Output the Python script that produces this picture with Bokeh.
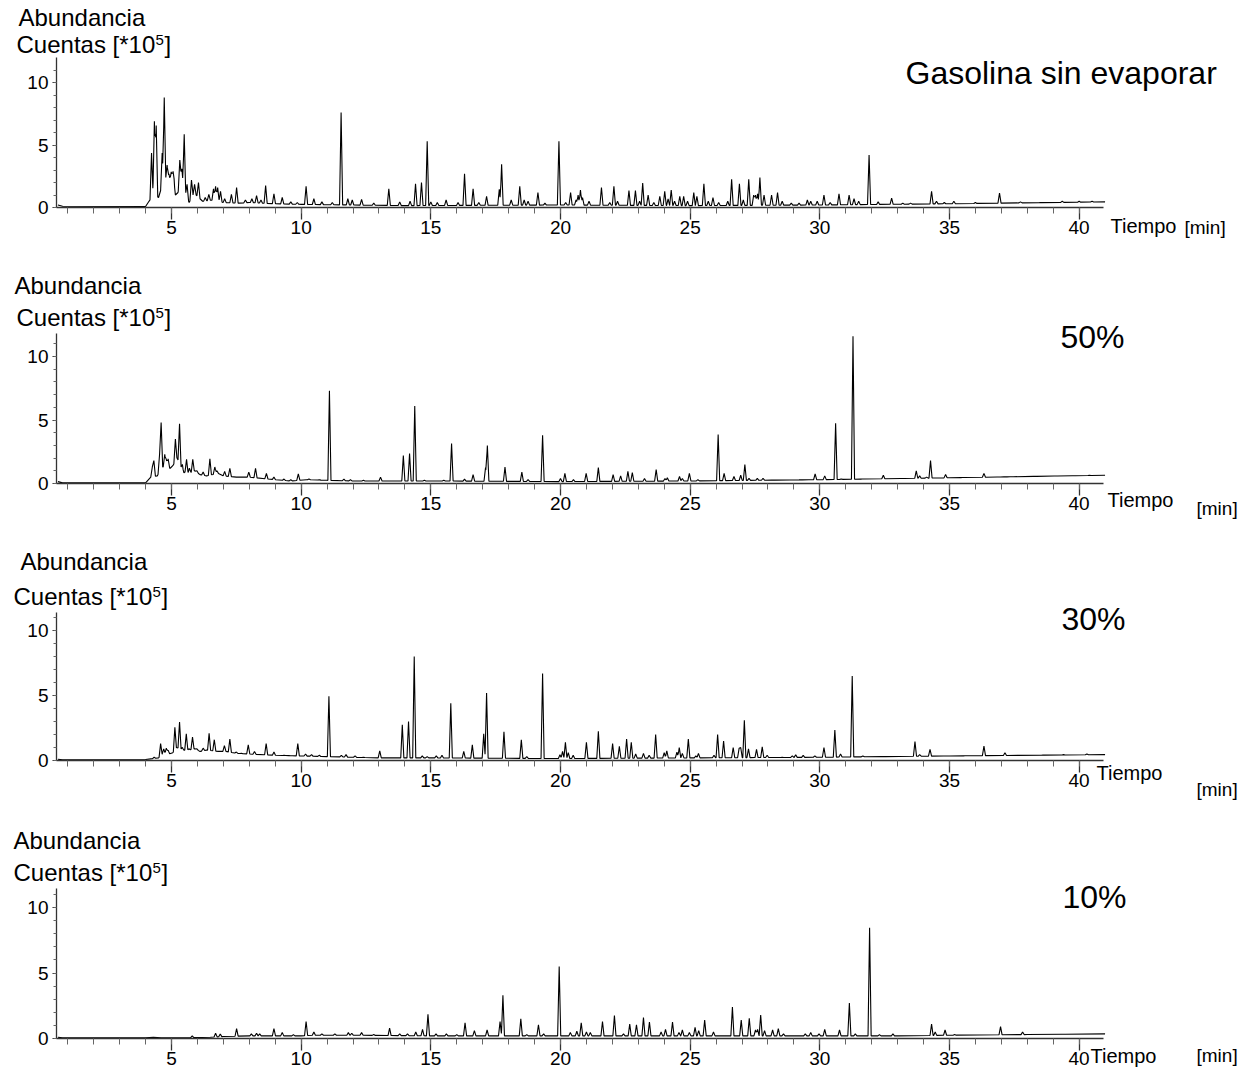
import numpy as np
from bokeh.plotting import figure
from bokeh.models import Range1d, FixedTicker, Label
from bokeh.layouts import column
from bokeh.embed import file_html
from bokeh.resources import INLINE

# ---------------- data ----------------
x_major_ticks = [5, 10, 15, 20, 25, 30, 35, 40]
x_minor_ticks = list(range(1, 41))
y_major_ticks = [0, 5, 10]
y_minor_ticks = list(range(0, 12))

titles = ["Gasolina sin evaporar", "50%", "30%", "10%"]
y_label_line1 = "Abundancia"
y_label_line2 = "Cuentas [*10"
y_label_exp = "5"
y_label_close = "]"
x_label = "Tiempo"
x_unit = "[min]"

# Panel 1: Gasolina sin evaporar
p1_base_t = [0.55, 0.62, 0.8, 4.0, 4.1, 4.3, 4.5, 4.6, 4.78, 5.1, 5.15, 5.25, 5.36, 5.55, 5.68, 5.82, 5.95, 6.2, 6.6, 7.0, 7.6, 8.0, 9.0, 10.0, 12.0, 14.0, 20.0, 25.0, 30.0, 35.0, 41.0]
p1_base_h = [0.3, 0.2, 0.1, 0.08, 0.4, 1.0, 0.8, 1.5, 2.2, 2.0, 1.0, 1.2, 2.3, 1.0, 0.4, 1.0, 1.0, 0.5, 0.6, 0.4, 0.35, 0.4, 0.3, 0.25, 0.2, 0.15, 0.2, 0.15, 0.2, 0.3, 0.45]
p1_peak_t = [4.23, 4.34, 4.41, 4.64, 4.72, 4.83, 4.9, 4.99, 5.06, 5.32, 5.4, 5.49, 5.6, 5.77, 5.89, 6.04, 6.3, 6.44, 6.62, 6.7, 6.78, 6.89, 7.05, 7.31, 7.51, 7.85, 8.1, 8.28, 8.45, 8.63, 8.95, 9.27, 9.6, 9.85, 10.19, 10.49, 10.8, 11.2, 11.54, 11.8, 11.97, 12.33, 12.8, 13.38, 13.8, 14.2, 14.41, 14.64, 14.86, 15.0, 15.25, 15.59, 16.05, 16.3, 16.63, 16.85, 17.15, 17.64, 17.73, 18.1, 18.43, 18.6, 18.75, 19.13, 19.4, 19.94, 20.2, 20.39, 20.6, 20.68, 20.77, 20.85, 21.1, 21.58, 21.9, 22.06, 22.2, 22.64, 22.89, 23.05, 23.17, 23.38, 23.6, 23.83, 24.02, 24.15, 24.27, 24.4, 24.6, 24.75, 24.9, 25.14, 25.26, 25.53, 25.7, 25.88, 26.1, 26.45, 26.6, 26.9, 27.05, 27.26, 27.45, 27.52, 27.6, 27.69, 27.85, 28.14, 28.37, 28.55, 28.9, 29.2, 29.52, 29.65, 29.9, 30.16, 30.4, 30.74, 31.13, 31.32, 31.5, 31.9, 32.25, 32.77, 33.2, 33.5, 34.31, 34.5, 34.8, 35.17, 36.0, 36.93, 37.74, 38.5, 39.35, 40.0, 40.5]
p1_peak_h = [4.35, 6.9, 6.55, 4.35, 8.8, 3.4, 2.7, 2.85, 2.9, 3.8, 3.1, 5.85, 1.85, 2.2, 1.85, 2.0, 0.8, 1.05, 1.5, 1.7, 1.6, 1.3, 0.7, 1.05, 1.6, 0.6, 0.7, 0.95, 0.6, 1.75, 1.1, 0.8, 0.45, 0.4, 1.7, 0.7, 0.45, 0.4, 7.6, 0.7, 0.6, 0.65, 0.35, 1.5, 0.45, 0.5, 1.9, 2.0, 5.3, 0.45, 0.4, 0.6, 0.4, 2.7, 1.5, 0.4, 0.9, 1.45, 3.45, 0.6, 1.7, 0.6, 0.5, 1.2, 0.35, 5.3, 0.4, 1.2, 0.6, 1.0, 1.4, 0.8, 0.5, 1.6, 0.4, 1.7, 0.5, 1.35, 1.35, 0.5, 1.95, 1.0, 0.4, 0.9, 1.3, 0.7, 1.4, 0.5, 0.9, 0.9, 0.5, 1.2, 0.9, 1.9, 0.5, 0.8, 0.4, 0.5, 2.25, 1.9, 0.6, 2.25, 1.0, 1.0, 1.1, 2.4, 1.0, 1.0, 1.2, 0.5, 0.35, 0.35, 0.6, 0.5, 0.5, 1.0, 0.4, 1.1, 1.0, 0.7, 0.5, 4.2, 0.45, 0.75, 0.35, 0.35, 1.3, 0.5, 0.4, 0.5, 0.4, 1.15, 0.45, 0.4, 0.5, 0.5, 0.5]

# Panel 2: 50%
p2_base_t = [0.55, 0.62, 0.8, 4.0, 4.2, 4.45, 4.65, 4.75, 4.95, 5.05, 5.22, 5.45, 5.52, 5.65, 5.9, 6.1, 6.35, 6.8, 7.0, 7.5, 8.0, 9.0, 9.6, 10.2, 11.0, 12.0, 15.0, 20.0, 25.0, 30.0, 35.0, 41.0]
p2_base_h = [0.35, 0.15, 0.05, 0.05, 0.5, 0.6, 1.3, 1.3, 1.2, 1.4, 2.0, 0.8, 0.9, 0.8, 1.0, 0.7, 0.6, 0.8, 0.6, 0.5, 0.5, 0.3, 0.2, 0.3, 0.25, 0.2, 0.2, 0.15, 0.2, 0.3, 0.45, 0.65]
p2_peak_t = [4.26, 4.32, 4.54, 4.6, 4.74, 4.8, 4.87, 5.15, 5.31, 5.42, 5.58, 5.69, 5.82, 5.98, 6.22, 6.48, 6.67, 6.75, 7.05, 7.25, 7.56, 7.98, 8.24, 8.66, 8.95, 9.34, 9.6, 9.89, 10.3, 10.7, 11.09, 11.65, 11.9, 12.4, 13.06, 13.94, 14.18, 14.38, 14.75, 15.5, 15.8, 16.3, 16.63, 17.11, 17.18, 17.86, 18.51, 18.75, 19.31, 20.0, 20.17, 20.5, 20.99, 21.46, 22.03, 22.32, 22.6, 22.77, 23.24, 23.69, 24.03, 24.12, 24.59, 24.7, 24.97, 25.3, 26.08, 26.31, 26.69, 26.95, 27.11, 27.27, 27.59, 27.81, 28.2, 28.9, 29.26, 29.64, 29.82, 30.19, 30.61, 30.83, 31.28, 31.64, 32.45, 33.2, 33.72, 33.85, 34.12, 34.27, 34.85, 35.5, 36.33, 36.9, 37.16, 37.4, 38.3, 39.1, 39.8, 40.4]
p2_peak_h = [1.3, 1.8, 2.3, 4.8, 2.3, 1.9, 1.95, 3.5, 4.7, 1.5, 1.9, 1.2, 1.9, 1.0, 0.9, 1.95, 1.3, 1.0, 0.95, 1.2, 0.5, 0.9, 1.2, 0.8, 0.5, 0.35, 0.3, 0.75, 0.35, 0.3, 7.3, 0.35, 0.3, 0.25, 0.5, 2.2, 2.35, 6.1, 0.25, 0.25, 3.15, 0.35, 0.7, 1.25, 3.0, 1.3, 0.9, 0.3, 3.8, 0.4, 0.8, 0.3, 0.8, 1.25, 0.7, 0.6, 0.95, 0.85, 0.4, 1.1, 0.4, 0.45, 0.55, 0.4, 0.8, 0.3, 3.85, 0.8, 0.55, 0.65, 1.5, 0.4, 0.4, 0.4, 0.25, 0.25, 0.3, 0.3, 0.75, 0.6, 4.75, 0.35, 11.6, 0.35, 0.65, 0.35, 1.0, 0.6, 0.5, 1.8, 0.7, 0.45, 0.8, 0.5, 0.5, 0.5, 0.55, 0.55, 0.6, 0.65]

# Panel 3: 30%
p3_base_t = [0.55, 0.62, 0.8, 4.0, 4.5, 4.65, 4.9, 5.05, 5.2, 5.45, 5.65, 5.9, 6.1, 6.35, 6.8, 7.1, 7.5, 8.0, 9.0, 10.0, 11.0, 12.0, 13.0, 15.0, 20.0, 25.0, 30.0, 35.0, 41.0]
p3_base_h = [0.25, 0.1, 0.05, 0.08, 0.2, 0.5, 0.5, 0.6, 1.0, 0.8, 0.8, 0.9, 0.7, 0.8, 0.7, 0.7, 0.55, 0.5, 0.4, 0.35, 0.3, 0.25, 0.2, 0.2, 0.15, 0.2, 0.25, 0.35, 0.45]
p3_peak_t = [4.33, 4.58, 4.7, 4.8, 4.87, 5.13, 5.31, 5.42, 5.57, 5.67, 5.81, 5.98, 6.22, 6.45, 6.65, 7.04, 7.25, 7.5, 7.7, 7.96, 8.2, 8.65, 8.95, 9.34, 9.59, 9.87, 10.17, 10.4, 10.7, 11.07, 11.55, 11.73, 12.08, 12.4, 13.03, 13.9, 14.14, 14.36, 14.67, 14.86, 15.21, 15.43, 15.77, 16.27, 16.6, 17.04, 17.15, 17.82, 18.49, 18.7, 19.31, 19.98, 20.08, 20.19, 20.3, 20.49, 21.0, 21.46, 22.01, 22.27, 22.55, 22.73, 22.9, 23.2, 23.42, 23.67, 24.0, 24.1, 24.49, 24.58, 24.7, 24.93, 25.22, 25.32, 25.92, 26.06, 26.29, 26.66, 26.89, 26.95, 27.09, 27.25, 27.56, 27.78, 27.97, 28.55, 28.94, 29.07, 29.36, 29.81, 30.16, 30.58, 30.8, 31.25, 31.66, 32.47, 33.67, 33.85, 34.25, 34.83, 35.6, 36.33, 37.14, 38.6, 39.4, 40.3]
p3_peak_h = [0.25, 1.3, 0.9, 0.95, 0.8, 2.55, 2.95, 1.0, 2.05, 0.9, 1.8, 0.9, 0.95, 2.1, 1.6, 1.15, 1.65, 0.65, 0.55, 1.2, 0.7, 1.3, 0.65, 0.4, 0.35, 1.3, 0.5, 0.45, 0.4, 4.95, 0.4, 0.45, 0.35, 0.25, 0.75, 2.75, 3.0, 8.0, 0.35, 0.3, 0.35, 0.4, 4.4, 0.7, 1.2, 2.05, 5.2, 2.2, 1.6, 0.3, 6.7, 0.45, 0.7, 1.4, 0.6, 0.4, 1.4, 2.25, 1.3, 1.1, 1.65, 1.4, 0.5, 0.55, 0.4, 2.0, 0.6, 0.75, 0.65, 1.0, 0.55, 1.65, 0.35, 0.55, 0.4, 2.0, 1.5, 1.0, 0.95, 1.0, 3.1, 0.9, 0.85, 1.05, 0.4, 0.25, 0.35, 0.45, 0.4, 0.35, 1.0, 2.35, 0.5, 6.5, 0.35, 0.25, 1.45, 0.45, 0.85, 0.3, 0.35, 1.1, 0.6, 0.4, 0.45, 0.5]

# Panel 4: 10%
p4_base_t = [0.55, 0.62, 0.8, 4.0, 4.3, 4.6, 5.5, 6.5, 7.0, 8.0, 9.0, 10.0, 10.5, 12.0, 15.0, 20.0, 25.0, 30.0, 33.0, 35.0, 38.0, 41.0]
p4_base_h = [0.2, 0.1, 0.05, 0.05, 0.1, 0.05, 0.05, 0.1, 0.15, 0.2, 0.2, 0.2, 0.25, 0.25, 0.2, 0.2, 0.2, 0.2, 0.2, 0.25, 0.3, 0.35]
p4_peak_t = [5.8, 6.7, 6.88, 7.51, 8.08, 8.28, 8.4, 8.95, 9.27, 9.7, 10.19, 10.49, 10.8, 11.3, 11.82, 11.95, 12.33, 12.8, 13.41, 13.8, 14.1, 14.42, 14.68, 14.89, 15.2, 15.6, 16.0, 16.32, 16.68, 17.17, 17.67, 17.78, 18.47, 18.7, 19.15, 19.35, 19.95, 20.38, 20.63, 20.8, 21.0, 21.15, 21.62, 22.08, 22.43, 22.67, 22.93, 23.2, 23.43, 23.88, 24.05, 24.32, 24.57, 24.7, 24.97, 25.19, 25.33, 25.56, 25.9, 26.63, 26.97, 27.28, 27.52, 27.6, 27.72, 27.87, 28.18, 28.4, 28.6, 29.44, 29.65, 29.97, 30.19, 30.76, 31.14, 31.37, 31.92, 32.3, 32.82, 34.31, 34.45, 34.83, 35.2, 36.97, 37.82, 39.4]
p4_peak_h = [0.2, 0.4, 0.35, 0.75, 0.35, 0.4, 0.35, 0.75, 0.45, 0.3, 1.3, 0.5, 0.35, 0.35, 0.45, 0.4, 0.45, 0.3, 0.8, 0.35, 0.35, 0.5, 0.7, 1.85, 0.35, 0.35, 0.3, 1.2, 0.6, 0.65, 1.3, 3.3, 1.5, 0.3, 1.05, 0.35, 5.5, 0.45, 0.55, 1.2, 0.5, 0.45, 1.3, 1.75, 0.35, 1.1, 1.05, 1.6, 1.25, 0.5, 0.7, 1.25, 0.45, 0.65, 0.45, 0.85, 0.6, 1.4, 0.5, 2.4, 1.4, 1.55, 0.65, 0.7, 1.8, 0.6, 0.65, 0.75, 0.35, 0.35, 0.45, 0.35, 0.7, 0.65, 2.7, 0.35, 8.45, 0.3, 0.35, 1.1, 0.5, 0.65, 0.3, 0.9, 0.5, 0.3]

series = [
    (p1_base_t, p1_base_h, p1_peak_t, p1_peak_h),
    (p2_base_t, p2_base_h, p2_peak_t, p2_peak_h),
    (p3_base_t, p3_base_h, p3_peak_t, p3_peak_h),
    (p4_base_t, p4_base_h, p4_peak_t, p4_peak_h),
]

# ---------------- layout (pixel geometry, style only) ----------------
W = 1258
FRAME_L, FRAME_R = 56, 1103
X0, X1 = 0.565, 40.94
PXPM = (FRAME_R - FRAME_L) / (X1 - X0)
FONT = "Liberation Sans"

# text positions: (left x, vertical centre of capitals)
panels = [
    dict(top=0,   height=268, ftop=57,  fbot=207,  ppu=12.5,
         abund=(18, 17), cuent=(16, 44), title=(905, 72),
         tiempo=(1110, 225), unit=(1184, 227)),
    dict(top=268, height=272, ftop=333, fbot=483,  ppu=12.7,
         abund=(14, 285), cuent=(16, 317), title=(1060, 336),
         tiempo=(1107, 499), unit=(1196, 508)),
    dict(top=540, height=280, ftop=612, fbot=760,  ppu=13.0,
         abund=(20, 561), cuent=(13, 596), title=(1061, 618),
         tiempo=(1096, 772), unit=(1196, 789)),
    dict(top=820, height=254, ftop=888, fbot=1038, ppu=13.1,
         abund=(13, 840), cuent=(13, 872), title=(1062, 896),
         tiempo=(1090, 1055), unit=(1196, 1055)),
]


def build_trace(bt, bh, pt, ph, w=0.06):
    bt = np.asarray(bt, float)
    bh = np.asarray(bh, float)
    pt = np.asarray(pt, float)
    ph = np.asarray(ph, float)
    xs = np.unique(np.concatenate([bt, pt - w, pt, pt + w]))
    base = np.interp(xs, bt, bh)
    ys = base.copy()
    for t, h in zip(pt, ph):
        b = np.interp(t, bt, bh)
        k = np.clip(1 - np.abs(xs - t) / w, 0, None)
        ys = np.maximum(ys, base + (h - b) * k)
    return xs, ys


figs = []
for i, (g, s) in enumerate(zip(panels, series)):
    def xd(px):
        return X0 + (px - FRAME_L) / PXPM

    def yd(py, g=g):
        return (g["fbot"] - py) / g["ppu"]

    ymax = (g["fbot"] - g["ftop"]) / g["ppu"]
    p = figure(width=W, height=g["height"],
               x_range=Range1d(xd(0), xd(W)),
               y_range=Range1d(yd(g["top"] + g["height"]), yd(g["top"])),
               output_backend="svg", toolbar_location=None,
               min_border_left=0, min_border_right=0,
               min_border_top=0, min_border_bottom=0)
    p.outline_line_color = None
    p.grid.visible = False
    p.background_fill_color = "white"
    p.border_fill_color = "white"

    xs, ys = build_trace(*s)
    keep = xs >= X0
    p.line(xs[keep], ys[keep], line_color="black", line_width=1.1)

    ax = p.xaxis[0]
    ax.fixed_location = 0
    ax.bounds = (X0, X1)
    ax.ticker = FixedTicker(ticks=x_major_ticks, minor_ticks=x_minor_ticks)
    ax.major_tick_in = 0
    ax.major_tick_out = 12
    ax.minor_tick_in = 0
    ax.minor_tick_out = 6
    ax.axis_line_color = "#333333"
    ax.axis_line_width = 1.3
    ax.major_tick_line_color = "#333333"
    ax.major_tick_line_width = 1.3
    ax.minor_tick_line_color = "#666666"
    ax.major_label_text_font = FONT
    ax.major_label_text_font_size = "19px"
    ax.major_label_text_color = "black"
    ax.major_label_standoff = 1

    ay = p.yaxis[0]
    ay.fixed_location = X0
    ay.bounds = (0, ymax)
    ay.ticker = FixedTicker(ticks=y_major_ticks, minor_ticks=y_minor_ticks)
    ay.major_tick_in = 0
    ay.major_tick_out = 4
    ay.minor_tick_in = 0
    ay.minor_tick_out = 3
    ay.axis_line_color = "#333333"
    ay.axis_line_width = 1.3
    ay.major_tick_line_color = "#333333"
    ay.minor_tick_line_color = "#666666"
    ay.major_label_text_font = FONT
    ay.major_label_text_font_size = "19px"
    ay.major_label_text_color = "black"
    ay.major_label_standoff = 4

    def add_text(px, py, text, size):
        p.add_layout(Label(x=xd(px), y=yd(py), text=text,
                           text_font=FONT, text_font_size=f"{size}px",
                           text_align="left", text_baseline="middle",
                           text_color="black"))

    a_x, a_y = g["abund"]
    add_text(a_x, a_y, y_label_line1, 24)
    cx, cy = g["cuent"]
    add_text(cx, cy, y_label_line2, 24)
    add_text(cx + 139, cy - 5, y_label_exp, 15)
    add_text(cx + 148, cy, y_label_close, 24)
    tx, ty = g["title"]
    add_text(tx, ty, titles[i], 32)
    tx, ty = g["tiempo"]
    add_text(tx, ty, x_label, 20)
    ux, uy = g["unit"]
    add_text(ux, uy, x_unit, 19)

    figs.append(p)

layout = column(*figs, spacing=0)
open("out.html", "w").write(file_html(layout, INLINE))
